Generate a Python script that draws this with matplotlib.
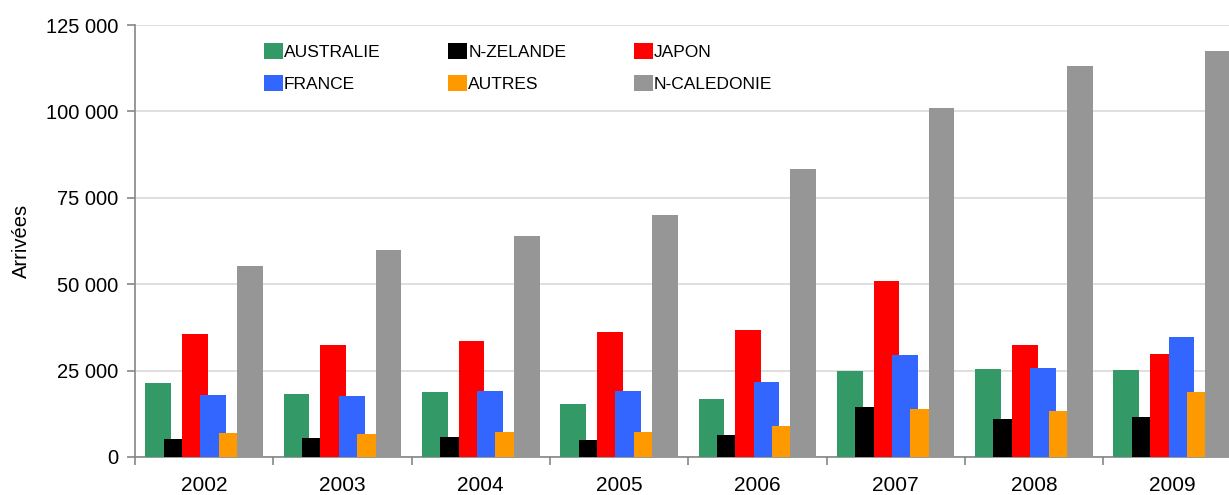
import matplotlib
matplotlib.use("Agg")
import matplotlib.pyplot as plt
import numpy as np
from matplotlib.patches import Patch
from matplotlib.ticker import FuncFormatter

plt.rcParams['font.family'] = ['Liberation Sans', 'DejaVu Sans']

# data
years = ['2002', '2003', '2004', '2005', '2006', '2007', '2008', '2009']
series_names = ['AUSTRALIE', 'N-ZELANDE', 'JAPON', 'FRANCE', 'AUTRES', 'N-CALEDONIE']
australie = [21500, 18200, 18800, 15300, 16800, 25000, 25400, 25200]
nzelande = [5200, 5500, 5800, 4900, 6400, 14500, 10900, 11700]
japon = [35500, 32400, 33600, 36200, 36700, 50800, 32500, 29900]
france = [17900, 17700, 19100, 19100, 21800, 29600, 25700, 34800]
autres = [6900, 6600, 7200, 7200, 9000, 13900, 13400, 18800]
ncaledonie = [55300, 59900, 64000, 69900, 83300, 101000, 113100, 117600]
colors = ['#339966', '#000000', '#ff0000', '#3366ff', '#ff9900', '#969696']

values = [australie, nzelande, japon, france, autres, ncaledonie]

fig = plt.figure(figsize=(12.29, 4.95), dpi=100)
ax = fig.add_axes([135 / 1229, 38 / 495, 1106.4 / 1229, 432 / 495])

x = np.arange(len(years))
step = 0.133
width = 0.186
for i, (vals, col) in enumerate(zip(values, colors)):
    ax.bar(x + (i - 2.5) * step, vals, width=width, color=col, zorder=3 + i)

ax.set_xlim(-0.5, len(years) - 0.5)
ax.set_ylim(0, 125000)
ax.set_yticks(np.arange(0, 125001, 25000))
ax.yaxis.set_major_formatter(FuncFormatter(lambda v, p: f"{int(v):,}".replace(",", " ")))
ax.grid(axis='y', color='#d9d9d9', lw=1.2, zorder=0)
ax.set_axisbelow(True)

# category boundary ticks, labels centred on groups
ax.set_xticks(np.arange(-0.5, len(years) + 0.5, 1))
ax.set_xticklabels([])
ax.set_xticks(x, minor=True)
ax.set_xticklabels(years, minor=True, fontsize=15)
ax.tick_params(axis='x', which='major', length=6, color='#868686', width=1.2)
ax.tick_params(axis='x', which='minor', length=0, pad=14)
ax.tick_params(axis='y', length=6, color='#868686', width=1.2, labelsize=14.5, pad=6)

for s in ['top', 'right']:
    ax.spines[s].set_visible(False)
for s in ['left', 'bottom']:
    ax.spines[s].set_color('#868686')
    ax.spines[s].set_linewidth(1.2)

ax.set_ylabel('Arrivées', fontsize=14.5)
ax.yaxis.set_label_coords(-0.094, 0.5)

# legend: 2 rows x 3 columns (column-major order)
order = [0, 3, 1, 4, 2, 5]
handles = [Patch(facecolor=colors[k], edgecolor='none', label=series_names[k]) for k in order]
ax.legend(handles=handles, ncol=3, frameon=False, loc='upper left',
          bbox_to_anchor=(264 / 1229, 1 - 43 / 495), bbox_transform=fig.transFigure,
          fontsize=12.5, handlelength=1.1, handleheight=1.05, handletextpad=0.05,
          columnspacing=3.9, labelspacing=0.85, borderpad=0, borderaxespad=0)

fig.savefig('out.png', dpi=100)
